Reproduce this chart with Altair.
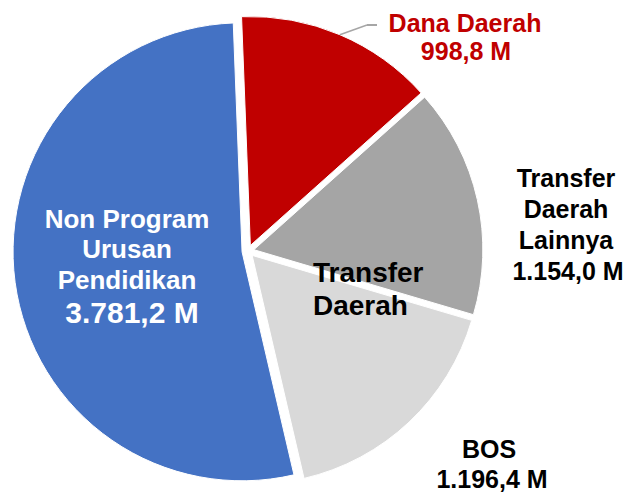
import altair as alt
import pandas as pd
import math

# ---- data ----
categories = ["Dana Daerah", "Transfer Daerah Lainnya", "BOS", "Non Program Urusan Pendidikan"]
values = [998.8, 1154.0, 1196.4, 3781.2]
colors = ["#C00000", "#A5A5A5", "#D9D9D9", "#4472C4"]

# ---- style ----
W, H = 623, 480
R = 229
EXPLODE = 6
ROT = math.radians(-2.2)
FONT = "Liberation Sans"

df = pd.DataFrame({"kategori": categories, "nilai": values, "urut": list(range(len(values)))})

xs = alt.Scale(domain=[-240, W - 240])
ys = alt.Scale(domain=[-(H - 243), 243])

base = (
    alt.Chart(df)
    .transform_window(cum="sum(nilai)", sort=[alt.SortField("urut")], frame=[None, 0])
    .transform_joinaggregate(total="sum(nilai)")
    .transform_calculate(a0=f"(datum.cum - datum.nilai) / datum.total * 2 * PI + ({ROT})")
    .transform_calculate(a1=f"datum.cum / datum.total * 2 * PI + ({ROT})")
    .transform_calculate(mid="(datum.a0 + datum.a1) / 2")
    .transform_calculate(ex=f"{EXPLODE} * sin(datum.mid)")
    .transform_calculate(ey=f"{EXPLODE} * cos(datum.mid)")
    .transform_calculate(lx=f"{EXPLODE + R} * sin(datum.mid)")
    .transform_calculate(ly=f"{EXPLODE + R} * cos(datum.mid)")
)

pie = base.mark_arc(outerRadius=R, stroke="white", strokeWidth=1).encode(
    x=alt.X("ex:Q", scale=xs, axis=None),
    y=alt.Y("ey:Q", scale=ys, axis=None),
    theta=alt.Theta("a0:Q", scale=None),
    theta2="a1:Q",
    color=alt.Color("kategori:N", scale=alt.Scale(domain=categories, range=colors), legend=None),
)

leader1 = base.transform_filter(alt.datum.kategori == "Dana Daerah").mark_rule(
    color="#A6A6A6", strokeWidth=1.5
).encode(
    x=alt.X("lx:Q", scale=xs, axis=None),
    y=alt.Y("ly:Q", scale=ys, axis=None),
    x2=alt.value(359),
    y2=alt.value(17),
)
leader2 = alt.Chart(df).mark_rule(color="#A6A6A6", strokeWidth=1.5).encode(
    x=alt.value(359), x2=alt.value(369), y=alt.value(17)
)

# annotation lines: text, x, y(baseline), size, color, align
notes = [
    ("Dana Daerah", 457, 24, 25, "#C00000", "center"),
    ("998,8 M", 458, 52, 25, "#C00000", "center"),
    ("Transfer", 558, 179, 25, "black", "center"),
    ("Daerah", 558, 210, 25, "black", "center"),
    ("Lainnya", 558, 241, 25, "black", "center"),
    ("1.154,0 M", 560, 272, 25, "black", "center"),
    ("BOS", 481, 450, 25, "black", "center"),
    ("1.196,4 M", 484, 480, 25, "black", "center"),
    ("Non Program", 119, 220, 26, "white", "center"),
    ("Urusan", 119, 250, 26, "white", "center"),
    ("Pendidikan", 119, 281, 26, "white", "center"),
    ("3.781,2 M", 124, 315, 30, "white", "center"),
    ("Transfer", 305, 274, 28, "black", "left"),
    ("Daerah", 305, 307, 28, "black", "left"),
]

text_layers = []
for t, x, y, s, c, a in notes:
    text_layers.append(
        alt.Chart(df).transform_filter(alt.datum.urut == 0).mark_text(
            text=t, font=FONT, fontWeight="bold", fontSize=s, color=c,
            align=a, baseline="alphabetic"
        ).encode(x=alt.value(x), y=alt.value(y))
    )

chart = (
    alt.layer(pie, leader1, leader2, *text_layers)
    .properties(
        width=W, height=H,
        padding={"left": 0, "top": 0, "right": 0, "bottom": 8},
        autosize="none", background="white",
    )
    .configure_view(stroke=None)
)

chart.save("out.html", embed_options={"renderer": "svg", "actions": False})
